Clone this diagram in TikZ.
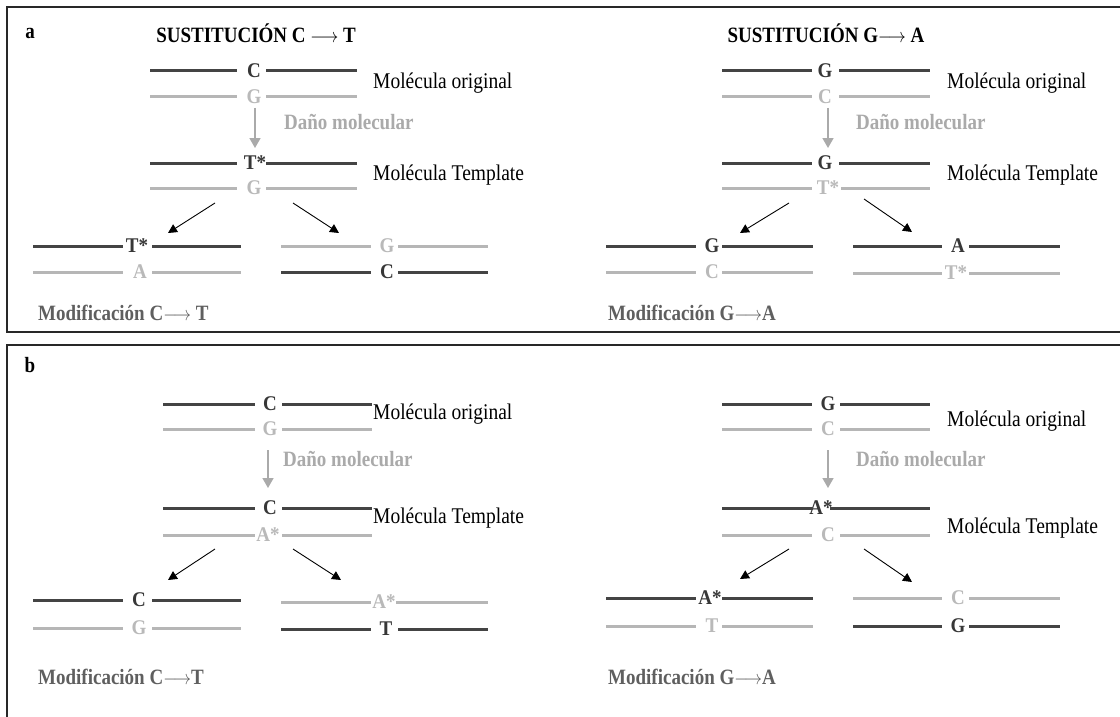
\documentclass[tikz,border=0pt]{standalone}
\usepackage{fontspec}
\usepackage{graphicx}
\setmainfont{Liberation Serif}
\usetikzlibrary{arrows.meta}
\definecolor{dk}{RGB}{68,68,68}
\definecolor{lt}{RGB}{182,182,182}
\definecolor{ltxt}{RGB}{185,185,185}
\definecolor{dtxt}{RGB}{55,55,55}
\definecolor{modc}{RGB}{95,95,95}
\definecolor{dano}{RGB}{170,170,170}
\definecolor{framec}{RGB}{40,40,40}
\newcommand\tall[1]{\scalebox{1}[1.15]{#1}}
% #1 name, #2 kind, #3 xL, #4 xa, #5 xc, #6 xb, #7 xR, #8 y, #9 text
\newcommand\dna[9]{%
 \node[#2base] (#1) at (#5,#8) {\scalebox{1}[1.1]{#9}};
 \draw[#2line] (#3,#8) -- (#4,#8);
 \draw[#2line] (#6,#8) -- (#7,#8);}
\tikzset{
 dkbase/.style={font=\fontsize{19}{19}\selectfont\bfseries, text=dtxt, inner sep=0pt},
 ltbase/.style={font=\fontsize{19}{19}\selectfont\bfseries, text=ltxt, inner sep=0pt},
 dkline/.style={draw=dk, line width=3pt},
 ltline/.style={draw=lt, line width=3pt},
 lbl/.style={font=\fontsize{19.5}{20}\selectfont, anchor=west, inner sep=0pt},
 danolbl/.style={font=\fontsize{19}{20}\selectfont\bfseries, text=dano, anchor=west, inner sep=0pt},
 modlbl/.style={font=\fontsize{19}{20}\selectfont\bfseries, text=modc, anchor=west, inner sep=0pt},
 titlelbl/.style={font=\fontsize{19}{20}\selectfont\bfseries, inner sep=0pt},
 panellbl/.style={font=\fontsize{19}{20}\selectfont\bfseries, inner sep=0pt},
 blackarrow/.style={line width=0.9pt, -{Triangle[width=9pt,length=9pt]}},
 grayarrow/.style={draw=dano, line width=1.6pt, -{Triangle[width=11pt,length=10pt]}},
 framel/.style={draw=framec, line width=1.8pt}
}
\begin{document}
\begin{tikzpicture}[x=1pt,y=-1pt]
\clip (0,0) rectangle (1120,717);
\fill[white] (0,0) rectangle (1120,717);
% frames
\draw[framel] (7,7) rectangle (1130,332);
\draw[framel] (7,730) -- (7,345) -- (1130,345);
% ---------- panel a ----------
\node[panellbl] (pa) at (30,33) {\tall{a}};
\node[titlelbl] (t1) at (256,33) {\tall{SUSTITUCIÓN C $\longrightarrow$ T}};
\node[titlelbl] (t2) at (826,33) {\tall{SUSTITUCIÓN G$\longrightarrow$ A}};
% left: C->T
\dna{a1}{dk}{150}{237}{254}{266}{357}{71}{C}
\dna{a2}{lt}{150}{237}{254}{266}{357}{97}{G}
\dna{a3}{dk}{150}{237}{255}{266}{357}{163}{T*}
\dna{a4}{lt}{150}{237}{254}{266}{357}{188}{G}
\node[lbl] (ao1) at (373,83) {\tall{Molécula original}};
\node[lbl] (at1) at (373,175) {\tall{Molécula Template}};
\node[danolbl] (ad1) at (284,122) {\tall{Daño molecular}};
\coordinate (ag1s) at (255,108); \coordinate (ag1e) at (255,148);
\draw[grayarrow] (ag1s) -- (ag1e);
\coordinate (aa1s) at (215,203); \coordinate (aa1e) at (168,233);
\coordinate (aa2s) at (293,203); \coordinate (aa2e) at (339,233);
\draw[blackarrow] (aa1s) -- (aa1e);
\draw[blackarrow] (aa2s) -- (aa2e);
\dna{a5}{dk}{33}{123}{137}{152}{241}{246}{T*}
\dna{a6}{lt}{33}{123}{140}{152}{241}{272}{A}
\dna{a7}{lt}{281}{371}{387}{398}{488}{246}{G}
\dna{a8}{dk}{281}{371}{387}{398}{488}{272}{C}
\node[modlbl] (am1) at (38,313) {\tall{Modificación C$\longrightarrow$ T}};
% right: G->A
\dna{b1}{dk}{722}{812}{825}{839}{930}{71}{G}
\dna{b2}{lt}{722}{812}{825}{839}{930}{97}{C}
\dna{b3}{dk}{722}{812}{825}{839}{930}{163}{G}
\dna{b4}{lt}{722}{812}{828}{841}{930}{188}{T*}
\node[lbl] (ao2) at (947,83) {\tall{Molécula original}};
\node[lbl] (at2) at (947,175) {\tall{Molécula Template}};
\node[danolbl] (ad2) at (856,122) {\tall{Daño molecular}};
\coordinate (ag2s) at (828,108); \coordinate (ag2e) at (828,148);
\draw[grayarrow] (ag2s) -- (ag2e);
\coordinate (ba1s) at (789,203); \coordinate (ba1e) at (740,233);
\coordinate (ba2s) at (864,199); \coordinate (ba2e) at (912,232);
\draw[blackarrow] (ba1s) -- (ba1e);
\draw[blackarrow] (ba2s) -- (ba2e);
\dna{b5}{dk}{606}{696}{712}{722}{813}{246}{G}
\dna{b6}{lt}{606}{696}{712}{722}{813}{272}{C}
\dna{b7}{dk}{853}{942}{958}{969}{1060}{246}{A}
\dna{b8}{lt}{853}{942}{956}{969}{1060}{273}{T*}
\node[modlbl] (am2) at (608,313) {\tall{Modificación G$\longrightarrow$A}};
% ---------- panel b ----------
\node[panellbl] (pb) at (30,365) {\tall{b}};
\dna{c1}{dk}{163}{255}{270}{282}{372}{404}{C}
\dna{c2}{lt}{163}{255}{270}{282}{372}{429}{G}
\dna{c3}{dk}{163}{255}{270}{282}{372}{508}{C}
\dna{c4}{lt}{163}{255}{268}{282}{372}{535}{A*}
\node[lbl] (co1) at (373,414) {\tall{Molécula original}};
\node[lbl] (ct1) at (373,518) {\tall{Molécula Template}};
\node[danolbl] (cd1) at (283,459) {\tall{Daño molecular}};
\coordinate (cg1s) at (268,450); \coordinate (cg1e) at (268,488);
\draw[grayarrow] (cg1s) -- (cg1e);
\coordinate (ca1s) at (215,549); \coordinate (ca1e) at (168,580);
\coordinate (ca2s) at (293,549); \coordinate (ca2e) at (341,580);
\draw[blackarrow] (ca1s) -- (ca1e);
\draw[blackarrow] (ca2s) -- (ca2e);
\dna{c5}{dk}{33}{123}{139}{152}{241}{600}{C}
\dna{c6}{lt}{33}{123}{139}{152}{241}{628}{G}
\dna{c7}{lt}{281}{371}{384}{396}{488}{602}{A*}
\dna{c8}{dk}{281}{371}{386}{398}{488}{629}{T}
\node[modlbl] (cm1) at (38,677) {\tall{Modificación C$\longrightarrow$T}};
% right
\dna{d1}{dk}{722}{812}{828}{840}{930}{404}{G}
\dna{d2}{lt}{722}{812}{828}{840}{930}{429}{C}
\dna{d3}{dk}{722}{813}{821}{830}{930}{508}{A*}
\dna{d4}{lt}{722}{812}{828}{840}{930}{535}{C}
\node[lbl] (do1) at (947,421) {\tall{Molécula original}};
\node[lbl] (dt1) at (947,528) {\tall{Molécula Template}};
\node[danolbl] (dd1) at (856,459) {\tall{Daño molecular}};
\coordinate (dg1s) at (828,450); \coordinate (dg1e) at (828,488);
\draw[grayarrow] (dg1s) -- (dg1e);
\coordinate (da1s) at (789,549); \coordinate (da1e) at (740,579);
\coordinate (da2s) at (864,549); \coordinate (da2e) at (912,582);
\draw[blackarrow] (da1s) -- (da1e);
\draw[blackarrow] (da2s) -- (da2e);
\dna{d5}{dk}{606}{696}{710}{722}{813}{598}{A*}
\dna{d6}{lt}{606}{696}{712}{722}{813}{626}{T}
\dna{d7}{lt}{853}{942}{958}{969}{1060}{598}{C}
\dna{d8}{dk}{853}{942}{958}{969}{1060}{626}{G}
\node[modlbl] (dm1) at (608,677) {\tall{Modificación G$\longrightarrow$A}};
\end{tikzpicture}
\end{document}
